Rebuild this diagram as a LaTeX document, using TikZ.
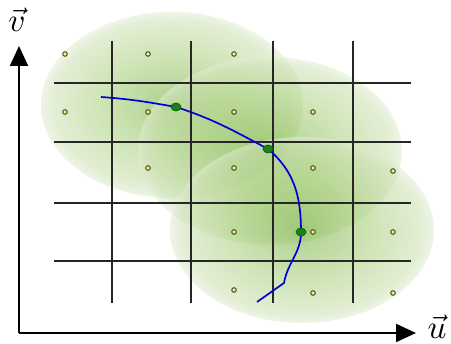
\documentclass[tikz,border=0pt]{standalone}
\usetikzlibrary{arrows.meta, shapes.geometric}
\definecolor{blobin}{RGB}{110,170,50}
\definecolor{blobmid}{RGB}{165,205,120}
\definecolor{blobout}{RGB}{205,225,180}
\definecolor{dotfill}{RGB}{240,240,140}
\definecolor{dotline}{RGB}{60,60,15}
\definecolor{knot}{RGB}{30,125,30}
\pgfdeclareradialshading{blobshade}{\pgfpointorigin}{color(0bp)=(blobin); color(13bp)=(blobmid); color(23bp)=(blobout); color(25bp)=(blobout!60!white); color(50bp)=(blobout!60!white)}
\begin{document}
\begin{tikzpicture}[
        x=1pt, y=-1pt,
        blob/.style={shading=blobshade, fill opacity=0.55, draw=none},
        grid/.style={line width=1.3pt, black!85},
        sample/.style={circle, draw=dotline, fill=dotfill, line width=0.9pt, inner sep=0pt, minimum size=4.6pt},
        knot/.style={ellipse, draw=black!60!green, fill=knot, line width=0.7pt, inner sep=0pt, minimum width=10pt, minimum height=8pt},
        curve/.style={line width=1.7pt, blue!85!black},
        axis/.style={line width=2pt, -{Triangle[length=20pt, width=18pt]}},
        lbl/.style={inner sep=0pt}
    ]
        \useasboundingbox (0,0) rectangle (451,344);

        % === Shaded regions ===
        \shade[blob] (172,105) ellipse [x radius=131, y radius=93];
        \shade[blob] (270,151) ellipse [x radius=132, y radius=94];
        \shade[blob] (302,230) ellipse [x radius=132, y radius=93];

        % === Grid ===
        \draw[grid] (112,41) -- (112,303);
        \draw[grid] (191,41) -- (191,303);
        \draw[grid] (273,41) -- (273,303);
        \draw[grid] (353,41) -- (353,303);
        \draw[grid] (54,83) -- (411,83);
        \draw[grid] (54,142) -- (411,142);
        \draw[grid] (54,203) -- (411,203);
        \draw[grid] (54,261) -- (411,261);

        % === Samples ===
        \node[sample] (p11) at (65,54) {};
        \node[sample] (p12) at (148,54) {};
        \node[sample] (p13) at (234,54) {};
        \node[sample] (p21) at (65,112) {};
        \node[sample] (p22) at (148,112) {};
        \node[sample] (p23) at (234,112) {};
        \node[sample] (p24) at (313,112) {};
        \node[sample] (p32) at (148,168) {};
        \node[sample] (p33) at (234,168) {};
        \node[sample] (p34) at (313,168) {};
        \node[sample] (p35) at (393,171) {};
        \node[sample] (p43) at (234,232) {};
        \node[sample] (p44) at (313,232) {};
        \node[sample] (p45) at (393,232) {};
        \node[sample] (p53) at (234,290) {};
        \node[sample] (p54) at (313,293) {};
        \node[sample] (p55) at (393,293) {};

        % === Curve ===
        \coordinate (start) at (101,97);
        \coordinate (c1) at (176,107);
        \coordinate (c2) at (268,149);
        \coordinate (c3) at (301,232);
        \coordinate (bend) at (284,283);
        \coordinate (end) at (257,302);
        \draw[curve] (start) to[out=-4, in=170] (c1)
            to[out=-18, in=152] (c2)
            to[out=-40, in=90] (c3)
            to[out=-90, in=80] (bend) -- (end);
        \node[knot] (k1) at (c1) {};
        \node[knot] (k2) at (c2) {};
        \node[knot] (k3) at (c3) {};

        % === Axes ===
        \coordinate (origin) at (19,333);
        \coordinate (vtip) at (19,46);
        \coordinate (utip) at (416,333);
        \draw[axis] (origin) -- (vtip);
        \draw[axis] (origin) -- (utip);
        \node[lbl] (vlab) at (17,20) {\scalebox{3.3}{$\vec{v}$}};
        \node[lbl] (ulab) at (437,327) {\scalebox{3.3}{$\vec{u}$}};
    \end{tikzpicture}
\end{document}
